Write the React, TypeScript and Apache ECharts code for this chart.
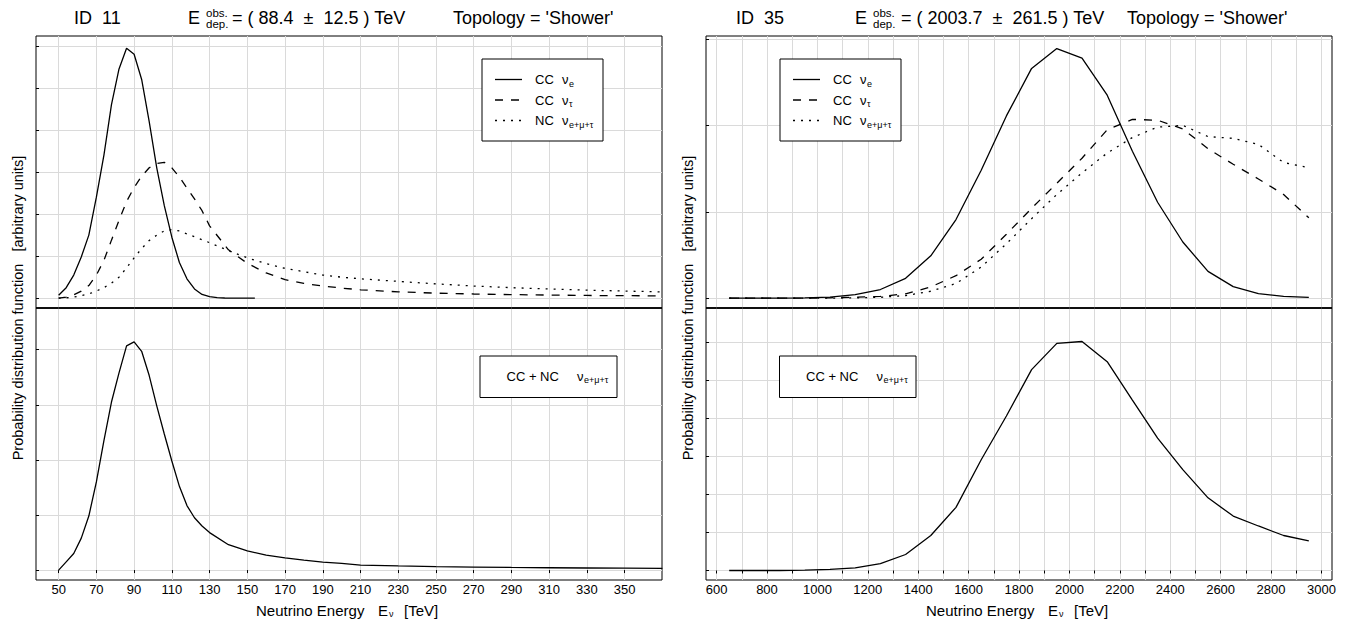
import React, { useEffect, useRef } from 'react';
import * as echarts from 'echarts';

// ---------- data (values in units of the horizontal grid spacing) ----------
const energyLeftCCe = [50, 54, 58, 62, 66, 70, 74, 78, 82, 86, 90, 94, 98, 102, 106, 110, 114, 118, 122, 126, 130, 134, 138, 142, 146, 150, 154];
const ccNuELeft = [0.07, 0.25, 0.55, 0.98, 1.5, 2.4, 3.4, 4.6, 5.45, 5.94, 5.8, 5.2, 4.2, 3.1, 2.2, 1.45, 0.85, 0.46, 0.22, 0.09, 0.035, 0.012, 0.005, 0.002, 0.001, 0, 0];

const energyLeft = [50, 54, 58, 62, 66, 70, 74, 78, 82, 86, 90, 94, 98, 102, 106, 110, 114, 118, 122, 126, 130, 140, 150, 160, 170, 180, 190, 200, 210, 230, 250, 270, 290, 310, 330, 350, 370];
const ccNuTauLeft = [0, 0.025, 0.08, 0.17, 0.3, 0.55, 0.9, 1.38, 1.85, 2.3, 2.63, 2.9, 3.1, 3.2, 3.23, 3.1, 2.88, 2.62, 2.36, 2.08, 1.72, 1.15, 0.83, 0.6, 0.44, 0.35, 0.29, 0.24, 0.2, 0.15, 0.12, 0.1, 0.085, 0.075, 0.065, 0.06, 0.055];
const ncLeft = [0, 0.01, 0.025, 0.06, 0.1, 0.17, 0.25, 0.36, 0.5, 0.72, 0.96, 1.18, 1.37, 1.5, 1.6, 1.63, 1.6, 1.53, 1.46, 1.39, 1.32, 1.13, 0.96, 0.82, 0.71, 0.63, 0.55, 0.5, 0.46, 0.4, 0.34, 0.29, 0.25, 0.22, 0.19, 0.17, 0.15];
const totalLeft = [0, 0.15, 0.3, 0.58, 0.98, 1.6, 2.35, 3.05, 3.58, 4.07, 4.14, 3.97, 3.53, 2.98, 2.47, 1.98, 1.52, 1.17, 0.95, 0.8, 0.68, 0.46, 0.35, 0.27, 0.22, 0.18, 0.145, 0.12, 0.09, 0.075, 0.063, 0.055, 0.048, 0.042, 0.038, 0.034, 0.031];

const energyRight = [650, 750, 850, 950, 1050, 1150, 1250, 1350, 1450, 1550, 1650, 1750, 1850, 1950, 2050, 2150, 2250, 2350, 2450, 2550, 2650, 2750, 2850, 2950];
const ccNuERight = [0, 0, 0.001, 0.004, 0.012, 0.04, 0.1, 0.23, 0.49, 0.91, 1.48, 2.11, 2.66, 2.89, 2.78, 2.35, 1.7, 1.11, 0.65, 0.31, 0.134, 0.053, 0.02, 0.008];
const ccNuTauRight = [0, 0, 0, 0, 0.004, 0.012, 0.02, 0.05, 0.13, 0.26, 0.45, 0.74, 1.04, 1.33, 1.62, 1.95, 2.07, 2.06, 1.96, 1.73, 1.55, 1.38, 1.2, 0.93];
const ncRight = [0, 0, 0, 0, 0, 0.004, 0.01, 0.03, 0.08, 0.17, 0.36, 0.63, 0.92, 1.2, 1.45, 1.68, 1.86, 1.98, 2.0, 1.87, 1.85, 1.78, 1.57, 1.51];
const totalRight = [0, 0, 0, 0.01, 0.03, 0.07, 0.18, 0.42, 0.92, 1.66, 2.91, 4.06, 5.28, 5.97, 6.02, 5.49, 4.48, 3.48, 2.65, 1.91, 1.43, 1.17, 0.92, 0.78];

const leftTicks = [50, 70, 90, 110, 130, 150, 170, 190, 210, 230, 250, 270, 290, 310, 330, 350];
const rightTicks = [600, 700, 800, 900, 1000, 1100, 1200, 1300, 1400, 1500, 1600, 1700, 1800, 1900, 2000, 2100, 2200, 2300, 2400, 2500, 2600, 2700, 2800, 2900, 3000];
const rightLabels = [600, 800, 1000, 1200, 1400, 1600, 1800, 2000, 2200, 2400, 2600, 2800, 3000];
const yTicksLT = [0, 1, 2, 3, 4, 5, 6];
const yTicksLB = [0, 1, 2, 3, 4];
const yTicksRT = [0, 1, 2, 3];
const yTicksRB = [0, 1, 2, 3, 4, 5, 6];

const titleLeft = { id: 'ID  11', value: '= ( 88.4  \u00b1  12.5 ) TeV', topo: "Topology = 'Shower'" };
const titleRight = { id: 'ID  35', value: '= ( 2003.7  \u00b1  261.5 ) TeV', topo: "Topology = 'Shower'" };

// ---------- layout ----------
const FONT = '"Liberation Sans", Arial, Helvetica, sans-serif';
const L = { left: 36, width: 626 };
const R = { left: 706, width: 626 };
const TOP = 36, MID = 308, BOT = 580;

const zip = (xs: number[], ys: number[]) => xs.map((x, i) => [x, ys[i]]);

function txt(x: number, y: number, text: string, size: number, align = 'left', rotation = 0) {
  return {
    type: 'text', x, y, rotation, z: 100, silent: true,
    style: {
      text, fontSize: size, fontFamily: FONT, fill: '#000',
      align, verticalAlign: 'middle', textAlign: align, textVerticalAlign: 'middle',
    },
  };
}
function seg(x1: number, y1: number, x2: number, y2: number, dash: any = null, w = 1.3) {
  return {
    type: 'line', z: 100, silent: true,
    shape: { x1, y1, x2, y2 },
    style: { stroke: '#000', lineWidth: w, lineDash: dash || undefined },
  };
}
function box(x: number, y: number, w: number, h: number) {
  return {
    type: 'rect', z: 99, silent: true,
    shape: { x, y, width: w, height: h },
    style: { fill: '#fff', stroke: '#000', lineWidth: 1 },
  };
}

const DASH = [8, 8];
const DOT = [2, 6];

function topLegend(x0: number) {
  const y0 = 59;
  const rows = [79.5, 100, 120.5];
  return [
    box(x0, y0, 121, 82),
    seg(x0 + 13, rows[0], x0 + 40, rows[0]),
    seg(x0 + 13, rows[1], x0 + 40, rows[1], DASH),
    seg(x0 + 13, rows[2], x0 + 40, rows[2], DOT),
    txt(x0 + 53, rows[0], 'CC', 13), txt(x0 + 80, rows[0], '\u03bd', 13), txt(x0 + 87, rows[0] + 4, 'e', 9),
    txt(x0 + 53, rows[1], 'CC', 13), txt(x0 + 80, rows[1], '\u03bd', 13), txt(x0 + 87, rows[1] + 4, '\u03c4', 9),
    txt(x0 + 53, rows[2], 'NC', 13), txt(x0 + 80, rows[2], '\u03bd', 13), txt(x0 + 87, rows[2] + 4, 'e+\u03bc+\u03c4', 9),
  ];
}
function bottomLegend(x0: number, w: number) {
  const y = 376;
  return [
    box(x0, 356, w, 41.5),
    txt(x0 + 26.5, y, 'CC + NC', 13),
    txt(x0 + 97, y, '\u03bd', 13),
    txt(x0 + 104, y + 4, 'e+\u03bc+\u03c4', 9),
  ];
}
function header(x0: number, t: { id: string; value: string; topo: string }, ex: number, ox: number, vx: number, tx: number) {
  return [
    txt(x0, 18, t.id, 18),
    txt(ex, 18, 'E', 18),
    txt(ox, 12.5, 'obs.', 11.5),
    txt(ox, 24, 'dep.', 11.5),
    txt(vx, 18, t.value, 18),
    txt(tx, 18, t.topo, 18),
  ];
}
function xTitle(cx: number) {
  return [
    txt(cx - 93, 610, 'Neutrino Energy', 15),
    txt(cx + 29, 610, 'E', 15),
    txt(cx + 40, 614, '\u03bd', 9),
    txt(cx + 55, 610, '[TeV]', 15),
  ];
}
const yTitleText = 'Probability distribution function   [arbitrary units]';

function xAxis(grid: number, min: number, max: number, ticks: number[], labels: number[] | null) {
  const bottom = labels !== null;
  return {
    type: 'value', gridIndex: grid, min, max,
    axisLine: { show: false },
    axisTick: { show: bottom, customValues: ticks, length: 3, lineStyle: { color: '#000', width: 1 } },
    axisLabel: bottom
      ? { show: true, customValues: labels, color: '#000', fontSize: 13, fontFamily: FONT, margin: 3, formatter: (v: number) => String(v) }
      : { show: false },
    splitLine: { show: true, lineStyle: { color: '#dadada', width: 1 } },
  };
}
function yAxis(grid: number, min: number, max: number, ticks: number[]) {
  return {
    type: 'value', gridIndex: grid, min, max,
    axisLine: { show: false },
    axisTick: { show: true, inside: true, customValues: ticks, length: 3, lineStyle: { color: '#000', width: 1 } },
    axisLabel: { show: false },
    splitLine: { show: true, lineStyle: { color: '#dadada', width: 1 } },
  };
}
function line(xi: number, data: number[][], dash: any) {
  return {
    type: 'line', xAxisIndex: xi, yAxisIndex: xi, data, symbol: 'none', clip: true, silent: true,
    lineStyle: { color: '#000', width: 1.3, type: dash, cap: 'butt' },
  };
}

export default function App() {
  const ref = useRef<HTMLDivElement>(null);
  useEffect(() => {
    if (!ref.current) return;
    const chart = echarts.init(ref.current, null, { renderer: 'svg' });
    const grid = (left: number, top: number, width: number, height: number) => ({
      left, top, width, height, show: true, borderColor: '#000', borderWidth: 1, backgroundColor: 'transparent', containLabel: false,
    });
    const option: any = {
      animation: false,
      backgroundColor: '#fff',
      grid: [
        grid(L.left, TOP, L.width, MID - TOP),
        grid(L.left, MID, L.width, BOT - MID),
        grid(R.left, TOP, R.width, MID - TOP),
        grid(R.left, MID, R.width, BOT - MID),
      ],
      xAxis: [
        xAxis(0, 38, 369.8, leftTicks, null),
        xAxis(1, 38, 369.8, leftTicks, leftTicks),
        xAxis(2, 558, 3042, rightTicks, null),
        xAxis(3, 558, 3042, rightTicks, rightLabels),
      ],
      yAxis: [
        yAxis(0, -0.233, 6.233, yTicksLT),
        yAxis(1, -0.18, 4.756, yTicksLB),
        yAxis(2, -0.114, 3.035, yTicksRT),
        yAxis(3, -0.25, 6.9, yTicksRB),
      ],
      series: [
        line(0, zip(energyLeftCCe, ccNuELeft), 'solid'),
        line(0, zip(energyLeft, ccNuTauLeft), DASH),
        line(0, zip(energyLeft, ncLeft), DOT),
        line(1, zip(energyLeft, totalLeft), 'solid'),
        line(2, zip(energyRight, ccNuERight), 'solid'),
        line(2, zip(energyRight, ccNuTauRight), DASH),
        line(2, zip(energyRight, ncRight), DOT),
        line(3, zip(energyRight, totalRight), 'solid'),
      ],
      graphic: [
        ...header(74, titleLeft, 188, 206, 232, 453),
        ...header(736, titleRight, 855, 873, 901, 1127),
        seg(L.left, MID, L.left + L.width, MID, null, 1.6),
        seg(R.left, MID, R.left + R.width, MID, null, 1.6),
        ...topLegend(482),
        ...topLegend(780),
        ...bottomLegend(480, 137),
        ...bottomLegend(779.5, 136.5),
        ...xTitle(L.left + L.width / 2),
        ...xTitle(R.left + R.width / 2),
        txt(18, (TOP + BOT) / 2, yTitleText, 14.5, 'center', Math.PI / 2),
        txt(688, (TOP + BOT) / 2, yTitleText, 14.5, 'center', Math.PI / 2),
      ],
    };
    chart.setOption(option);
    return () => chart.dispose();
  }, []);
  return <div ref={ref} style={{ position: 'fixed', left: 0, top: 0, width: 1359, height: 627 }} />;
}
